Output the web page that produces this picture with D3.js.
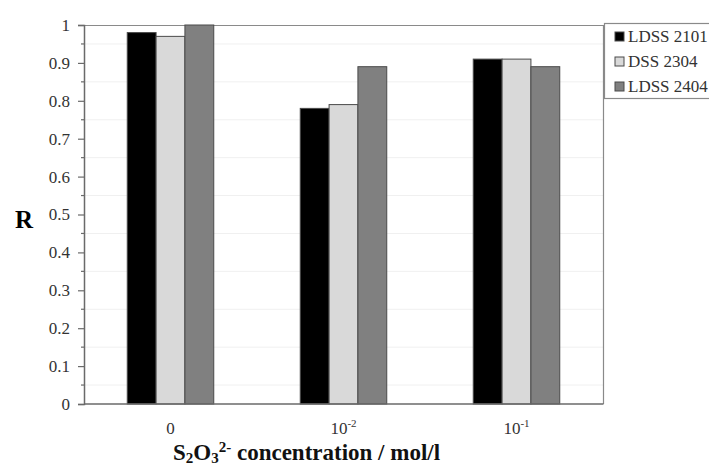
<!DOCTYPE html>
<html>
<head>
<meta charset="utf-8">
<script src="https://cdn.jsdelivr.net/npm/d3@7/dist/d3.min.js"></script>
<style>
  body { margin: 0; background: #fff; }
  text { font-family: "Liberation Serif", "Times New Roman", serif; }
</style>
</head>
<body>
<svg id="chart" width="709" height="466"></svg>
<script>
// concentrations (x categories) and one value list per steel grade
var categories = ["0", "10^-2", "10^-1"];
var seriesNames = ["LDSS 2101", "DSS 2304", "LDSS 2404"];
var ldss2101 = [0.98, 0.78, 0.91];
var dss2304 = [0.97, 0.79, 0.91];
var ldss2404 = [1.00, 0.89, 0.89];
var yTicks = [0, 0.1, 0.2, 0.3, 0.4, 0.5, 0.6, 0.7, 0.8, 0.9, 1];

var colors = ["#000000", "#d9d9d9", "#808080"];
var allSeries = [ldss2101, dss2304, ldss2404];

var svg = d3.select("#chart");
// plot box (note: "top" clashes with window.top, so use other names)
var plotL = 84, plotR = 603, plotT = 25, plotB = 404;

var x0 = d3.scaleBand().domain(categories).range([plotL, plotR]).paddingInner(0.5).paddingOuter(0.25);
var x1 = d3.scaleBand().domain(seriesNames).range([0, x0.bandwidth()]);
var y = d3.scaleLinear().domain([0, 1]).range([plotB, plotT]);

// faint grid lines at the half steps
var minor = d3.range(0.05, 1, 0.1);
svg.append("g").selectAll("line").data(minor).enter().append("line")
  .attr("x1", plotL).attr("x2", plotR)
  .attr("y1", d => y(d)).attr("y2", d => y(d))
  .attr("stroke", "#f0f0f0").attr("stroke-width", 1);

// plot frame top + right
svg.append("path")
  .attr("d", "M" + plotL + "," + (plotT + 0.5) + "H" + (plotR + 0.5) + "V" + plotB)
  .attr("fill", "none").attr("stroke", "#8a8a8a").attr("stroke-width", 1.2);

// bars
var groups = svg.append("g").selectAll("g").data(categories).enter().append("g")
  .attr("transform", d => "translate(" + x0(d) + ",0)");

groups.selectAll("rect")
  .data((d, i) => seriesNames.map((s, j) => ({ s: s, j: j, v: allSeries[j][i] })))
  .enter().append("rect")
  .attr("x", d => x1(d.s))
  .attr("width", x1.bandwidth())
  .attr("y", d => y(d.v))
  .attr("height", d => plotB - y(d.v))
  .attr("fill", d => colors[d.j])
  .attr("stroke", "#4a4a4a").attr("stroke-width", 1);

// y axis with minor ticks
var yAxis = d3.axisLeft(y).tickValues(yTicks).tickSize(6).tickPadding(8)
  .tickFormat(d => d === 0 || d === 1 ? String(d) : d3.format(".1f")(d));
var gy = svg.append("g").attr("transform", "translate(" + plotL + ",0)").call(yAxis);
gy.attr("font-family", null);
gy.select(".domain").attr("stroke", "#6a6a6a").attr("stroke-width", 1.5);
gy.selectAll(".tick line").attr("stroke", "#6a6a6a").attr("stroke-width", 1.2);
gy.selectAll(".tick text").attr("font-size", 17).attr("fill", "#333");
svg.append("g").selectAll("line").data(minor).enter().append("line")
  .attr("x1", plotL - 3).attr("x2", plotL)
  .attr("y1", d => y(d)).attr("y2", d => y(d))
  .attr("stroke", "#6a6a6a").attr("stroke-width", 1.2);

// x axis line
svg.append("line").attr("x1", plotL).attr("x2", plotR + 0.5)
  .attr("y1", plotB).attr("y2", plotB)
  .attr("stroke", "#6a6a6a").attr("stroke-width", 1.5);

// x category labels with superscripts
var xl = svg.append("g").selectAll("text").data(categories).enter().append("text")
  .attr("x", d => x0(d) + x0.bandwidth() / 2)
  .attr("y", 434)
  .attr("text-anchor", "middle")
  .attr("font-size", 17).attr("fill", "#333");
xl.each(function(d) {
  var t = d3.select(this);
  var parts = d.split("^");
  t.append("tspan").text(parts[0]);
  if (parts[1]) t.append("tspan").attr("dy", -7).attr("font-size", 11).text(parts[1]);
});

// axis titles
svg.append("text").attr("x", 24).attr("y", 228).attr("text-anchor", "middle")
  .attr("font-size", 25).attr("font-weight", "bold").text("R");

var xt = svg.append("text").attr("x", 173).attr("y", 460)
  .attr("font-size", 23).attr("font-weight", "bold").attr("fill", "#111");
xt.append("tspan").text("S");
xt.append("tspan").attr("font-size", 15).attr("dy", 3).text("2");
xt.append("tspan").attr("dy", -3).text("O");
xt.append("tspan").attr("font-size", 15).attr("dy", 3).text("3");
xt.append("tspan").attr("font-size", 15).attr("dy", -11).text("2-");
xt.append("tspan").attr("dy", 8).text(" concentration / mol/l");

// legend
var lg = svg.append("g");
lg.append("rect").attr("x", 604.5).attr("y", 23.5).attr("width", 120).attr("height", 75)
  .attr("fill", "#fff").attr("stroke", "#8a8a8a").attr("stroke-width", 1.2);
var items = lg.selectAll("g.item").data(seriesNames).enter().append("g")
  .attr("transform", (d, i) => "translate(615," + (36.5 + i * 25) + ")");
items.append("rect").attr("x", 0).attr("y", -4.5).attr("width", 9).attr("height", 9)
  .attr("fill", (d, i) => colors[i]).attr("stroke", "#4a4a4a").attr("stroke-width", 1);
items.append("text").attr("x", 13).attr("y", 5.5).attr("font-size", 17).attr("fill", "#333")
  .text(d => d);
</script>
</body>
</html>
